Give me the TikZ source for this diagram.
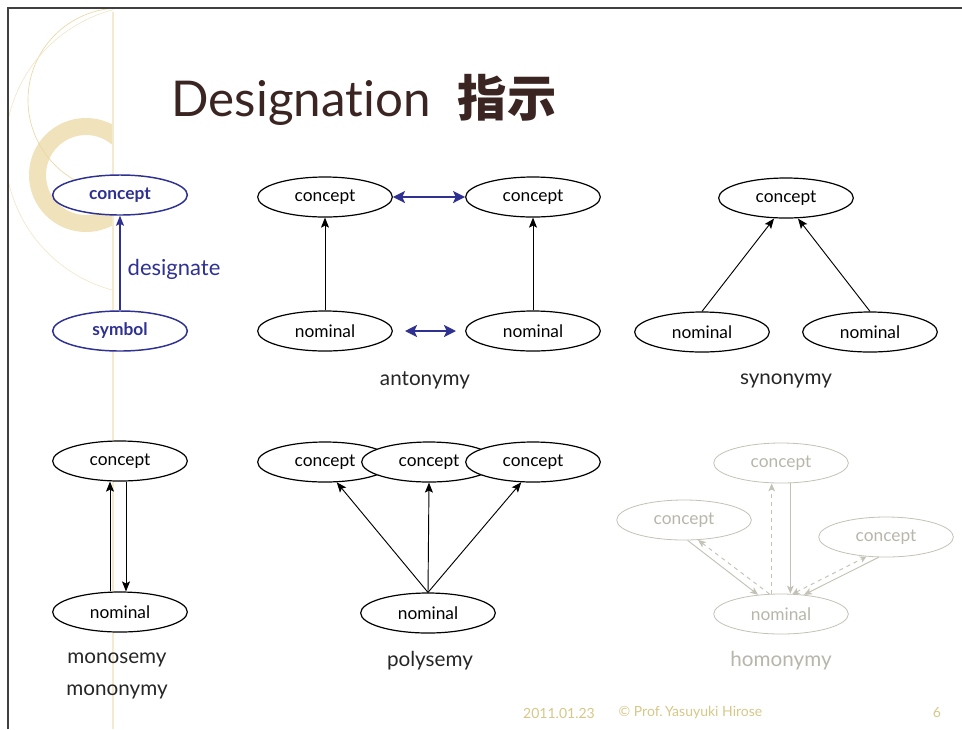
\documentclass[tikz,border=0pt]{standalone}
\usepackage{fontspec}
\setmainfont[Ligatures={NoCommon,NoRequired,NoContextual}]{Lato}
\newfontfamily\cjk{Noto Sans CJK SC}
\usetikzlibrary{shapes.geometric,arrows.meta}
\definecolor{titlebrown}{HTML}{3B2522}
\definecolor{navy}{HTML}{2E3192}
\definecolor{tan}{HTML}{E9D9A8}
\definecolor{ringtan}{HTML}{F0E2BA}
\definecolor{footer}{HTML}{D6C889}
\definecolor{faded}{HTML}{C4C2B6}
\definecolor{fadedtext}{HTML}{B8B6AA}
\tikzset{
  oval/.style={ellipse,draw=black,line width=0.9pt,fill=white,minimum width=101pt,minimum height=30pt,inner sep=0pt,font=\fontsize{13}{15}\selectfont},
  blueoval/.style={oval,draw=navy,line width=1.1pt,text=navy,font=\fontsize{13}{15}\selectfont\bfseries},
  fadedoval/.style={oval,draw=faded,line width=0.6pt,text=fadedtext},
  link/.style={line width=0.7pt,-{Stealth[length=7.5pt,width=6pt,inset=1.5pt]}},
  bluelink/.style={navy,line width=0.9pt,-{Stealth[length=7.5pt,width=6pt,inset=1.5pt]}},
  twoway/.style={navy,line width=1.7pt,{Stealth[length=9pt,width=9pt,inset=2pt]}-{Stealth[length=9pt,width=9pt,inset=2pt]}},
  fadedlink/.style={faded,line width=0.7pt,-{Stealth[length=6pt,width=5pt,inset=1.5pt]}},
  fadeddash/.style={fadedlink,dashed},
  caption/.style={font=\fontsize{15.5}{18}\selectfont,text=black!85},
  footnote/.style={font=\fontsize{10.5}{12}\selectfont,text=footer}
}
\begin{document}
\begin{tikzpicture}[x=0.75pt,y=-0.75pt]
\useasboundingbox (0,0) rectangle (962,729);
\fill[white] (0,0) rectangle (962,729);

% slide ornament: ring and thin arcs, cut off at the guide line
\begin{scope}
  \clip (8,8) rectangle (113,729);
  \fill[ringtan,even odd rule] (86,175) circle (57) (86,175) circle (40);
  \draw[tan,line width=0.5pt] (120,100) circle (92);
  \draw[tan!70,line width=0.4pt] (150,150) circle (145);
\end{scope}
\draw[tan!55,line width=0.8pt] (113,12) -- (113,729);

% slide frame
\draw[black!75,line width=1pt] (8,729) -- (8,8) -- (962,8);

% title
\node[anchor=west,text=titlebrown,font=\fontsize{37}{40}\selectfont] (title) at (167,100)
  {Designation\hspace{0.55em}{\cjk\bfseries 指示}};

% designation
\node[blueoval] (dc) at (120,195) {concept};
\node[blueoval] (ds) at (120,331) {symbol};
\draw[bluelink] (ds) -- node[right,text=navy,font=\fontsize{16.5}{19}\selectfont,xshift=2pt,yshift=-5pt] {designate} (dc);

% antonymy
\node[oval] (ac1) at (325,197) {concept};
\node[oval] (ac2) at (533,197) {concept};
\node[oval] (an1) at (325,331) {nominal};
\node[oval] (an2) at (533,331) {nominal};
\draw[link] (an1) -- (ac1);
\draw[link] (an2) -- (ac2);
\draw[twoway] (ac1) -- (ac2);
\coordinate (aL) at (405,331);
\coordinate (aR) at (456,331);
\draw[twoway] (aL) -- (aR);
\node[caption] (antcap) at (425,380) {antonymy};

% synonymy
\node[oval] (sc) at (786,198) {concept};
\node[oval] (sn1) at (702,332) {nominal};
\node[oval] (sn2) at (870,332) {nominal};
\draw[link] (sn1.north) -- ([xshift=-9pt]sc.south);
\draw[link] (sn2.north) -- ([xshift=9pt]sc.south);
\node[caption] (syncap) at (786,381) {synonymy};

% monosemy
\node[oval] (mc) at (120,461) {concept};
\node[oval] (mn) at (120,612) {nominal};
\draw[link] ([xshift=-7.5pt]mn.north) -- ([xshift=-7.5pt]mc.south);
\draw[link] ([xshift=4.5pt]mc.south) -- ([xshift=4.5pt]mn.north);
\node[caption] (monocap1) at (117,660) {monosemy};
\node[caption] (monocap2) at (117,692) {mononymy};

% polysemy
\node[oval] (pc1) at (325,462) {concept};
\node[oval] (pc2) at (429,462) {concept};
\node[oval] (pc3) at (533,462) {concept};
\node[oval] (pn) at (428,613) {nominal};
\draw[link] (pn.north) -- (pc1.-60);
\draw[link] (pn.north) -- (pc2.south);
\draw[link] (pn.north) -- (pc3.-120);
\node[caption] (polycap) at (430,661) {polysemy};

% homonymy (faded)
\node[fadedoval] (hct) at (781,463) {concept};
\node[fadedoval] (hcl) at (684,520) {concept};
\node[fadedoval] (hcr) at (886,537) {concept};
\node[fadedoval] (hn) at (781,614) {nominal};
\draw[fadedlink] ([xshift=7pt]hct.south) -- ([xshift=7pt]hn.north);
\draw[fadeddash] ([xshift=-7pt]hn.north) -- ([xshift=-7pt]hct.south);
\draw[fadedlink] (hcl.-80) -- (hn.140);
\draw[fadeddash] (hn.120) -- (hcl.-55);
\draw[fadedlink] (hcr.-110) -- (hn.40);
\draw[fadeddash,{Stealth[length=5pt,width=5pt,inset=1.5pt]}-{Stealth[length=5pt,width=5pt,inset=1.5pt]}] (hn.60) -- (hcr.-135);
\node[caption,text=fadedtext] (homocap) at (781,661) {homonymy};

% footer
\node[footnote] (date) at (559,713) {2011.01.23};
\node[footnote,anchor=west] (author) at (614,713) {© Prof.\,Yasuyuki\ Hirose};
\node[footnote] (page) at (937,713) {6};
\end{tikzpicture}
\end{document}
